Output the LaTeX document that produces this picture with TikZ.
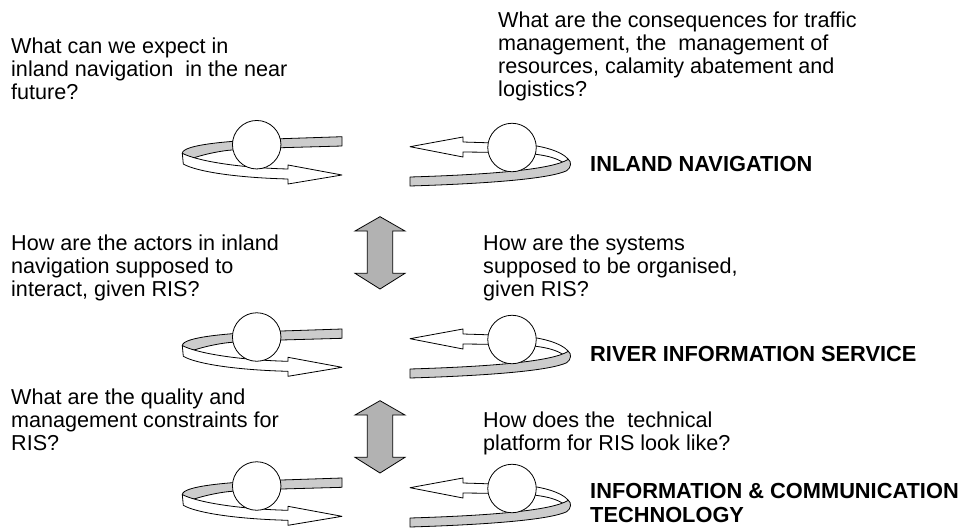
\documentclass[tikz,border=0pt]{standalone}
\usepackage{fontspec}
\setmainfont{Liberation Sans}
\newcommand\questionfont{\fontsize{21.6}{23}\selectfont}
\newcommand\layerfont{\fontsize{21.8}{24.3}\selectfont\bfseries}
\definecolor{ribbon}{gray}{0.8}
\definecolor{linkgray}{gray}{0.7}

\tikzset{
  band/.style={draw=black, line width=0.8pt, line join=round},
  backband/.style={band, fill=ribbon},
  frontband/.style={band, fill=white},
  hub/.style={circle, draw, line width=0.8pt, fill=white, minimum size=48.5pt, inner sep=0pt},
  question/.style={anchor=north west, inner sep=0pt, align=left, font=\questionfont},
  layer/.style={anchor=north west, inner sep=0pt, align=left, font=\layerfont},
  link/.style={draw, line width=0.8pt, fill=linkgray, line join=miter},
  % ribbon turning round a hub, returning to the right
  cycleleft/.pic={
    \path[backband] (85.3,-8) -- (24.7,-6)
      .. controls (-30,-4) and (-74,0) .. (-74.4,8.6)
      -- (-70,13) -- (-62,12.8)
      .. controls (-50,9) and (-35,6) .. (-24.7,5.3)
      -- (24.7,3) -- (85.3,1.3) -- cycle;
    \path[frontband] (-74.4,8.6)
      .. controls (-60,16) and (-20,23) .. (31.3,24.3)
      -- (31.3,20.3) -- (85.3,30.3) -- (31.3,39.3) -- (31.3,34.3)
      .. controls (-20,33) and (-60,27) .. (-73.4,19.3) -- cycle;
    \node[hub] (-hub) at (0,0) {};
  },
  % ribbon turning round a hub, returning to the left
  cycleright/.pic={
    \path[frontband] (-102,-0.8) -- (-49,-10.5) -- (-49,-5.5) -- (0,-4)
      .. controls (30,-3) and (50,4) .. (56.3,11.8)
      -- (54.7,23.2) -- (51.3,15.2)
      .. controls (44,10) and (30,6) .. (0,5)
      -- (-49,4.5) -- (-49,9.5) -- cycle;
    \path[backband] (56.3,11.8)
      .. controls (59.5,14) and (59.5,20) .. (54.7,23.2)
      .. controls (38,31) and (-20,36) .. (-102,38.5)
      -- (-102,29.5)
      .. controls (-20,27) and (40,22) .. (56.3,11.8) -- cycle;
    \node[hub] (-hub) at (0,0) {};
  },
  % two-headed vertical arrow between layers
  updown/.pic={
    \path[link] (0,-36.3) -- (25,-22) -- (12.7,-22) -- (12.7,20.3) -- (25,20.3)
      -- (0,36) -- (-25,20.3) -- (-12.7,20.3) -- (-12.7,-22) -- (-25,-22) -- cycle;
  }
}

\begin{document}
\begin{tikzpicture}[x=1pt, y=-1pt]
  \useasboundingbox (0,0) rectangle (964,531);

  % questions
  \node[question] (q-future) at (11,38.1)
    {What can we expect in\\inland navigation\ \ in the near\\future?};
  \node[question] (q-consequences) at (498,12.1)
    {What are the consequences for traffic\\management, the\ \ management of\\resources, calamity abatement and\\logistics?};
  \node[question] (q-actors) at (11,235.1)
    {How are the actors in inland\\navigation supposed to\\interact, given RIS?};
  \node[question] (q-systems) at (483,235.1)
    {How are the systems\\supposed to be organised,\\given RIS?};
  \node[question] (q-quality) at (11,389.1)
    {What are the quality and\\management constraints for\\RIS?};
  \node[question] (q-platform) at (483,412.1)
    {How does the\ \ technical\\platform for RIS look like?};

  % layer names
  \node[layer] (l-nav) at (590,156.2) {INLAND NAVIGATION};
  \node[layer] (l-ris) at (590,346.2) {RIVER INFORMATION SERVICE};
  \node[layer] (l-ict) at (590,483.2) {INFORMATION \& COMMUNICATION\\TECHNOLOGY};

  % cycles of each layer
  \pic (nav-left)  at (256.7,144.7) {cycleleft};
  \pic (nav-right) at (512,147.5)   {cycleright};
  \pic (ris-left)  at (256.7,337)   {cycleleft};
  \pic (ris-right) at (512,339.5)   {cycleright};
  \pic (ict-left)  at (256.7,486)   {cycleleft};
  \pic (ict-right) at (512,488.5)   {cycleright};

  % interaction between layers
  \pic (nav-ris) at (380,253) {updown};
  \pic (ris-ict) at (380,437) {updown};
\end{tikzpicture}
\end{document}
